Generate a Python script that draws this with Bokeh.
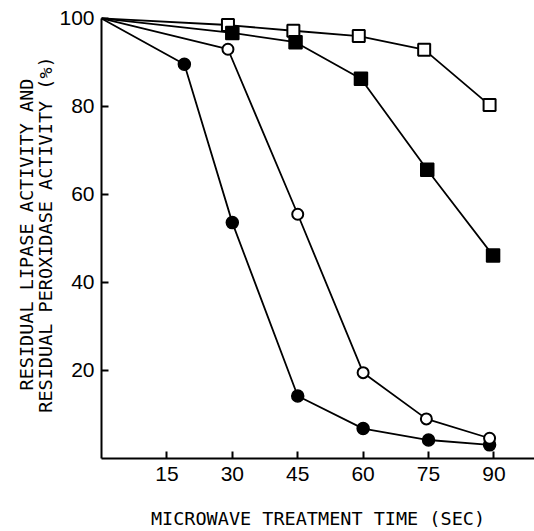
from bokeh.plotting import figure
from bokeh.models import FixedTicker, Range1d
from bokeh.embed import file_html
from bokeh.resources import INLINE

# Data
time_filled_circle = [0, 19, 30, 45, 60, 75, 89]
filled_circle = [100, 89.6, 53.6, 14.2, 6.8, 4.2, 3.1]
time_open_circle = [0, 29, 45, 60, 74.5, 89]
open_circle = [100, 93, 55.5, 19.5, 9, 4.6]
time_open_square = [0, 29, 44, 59, 74, 89]
open_square = [100, 98.5, 97.2, 96, 92.9, 80.3]
time_filled_square = [0, 30, 44.5, 59.5, 74.7, 89.8]
filled_square = [100, 96.7, 94.6, 86.3, 65.6, 46.1]
x_ticks = [15, 30, 45, 60, 75, 90]
y_ticks = [20, 40, 60, 80, 100]

p = figure(width=534, height=531, output_backend="svg", toolbar_location=None,
           x_range=Range1d(0, 99.3), y_range=Range1d(0, 101.8),
           min_border_left=101, min_border_right=0, min_border_top=10, min_border_bottom=73)
p.outline_line_color = None
p.xgrid.visible = False
p.ygrid.visible = False
p.background_fill_color = "white"
p.border_fill_color = "white"

lc = "black"
lw = 1.8
p.line(time_filled_circle, filled_circle, line_color=lc, line_width=lw)
p.line(time_open_circle, open_circle, line_color=lc, line_width=lw)
p.line(time_open_square, open_square, line_color=lc, line_width=lw)
p.line(time_filled_square, filled_square, line_color=lc, line_width=lw)

p.scatter(time_filled_circle[1:], filled_circle[1:], marker="circle", size=12,
          fill_color="black", line_color="black", line_width=1.5)
p.scatter(time_open_circle[1:], open_circle[1:], marker="circle", size=11,
          fill_color="white", line_color="black", line_width=2)
p.scatter(time_open_square[1:], open_square[1:], marker="square", size=12,
          fill_color="white", line_color="black", line_width=2)
p.scatter(time_filled_square[1:], filled_square[1:], marker="square", size=13,
          fill_color="black", line_color="black", line_width=1.5)

for ax in (p.xaxis[0], p.yaxis[0]):
    ax.axis_line_width = 2
    ax.axis_line_color = "black"
    ax.major_tick_in = 7
    ax.major_tick_out = 0
    ax.major_tick_line_width = 2
    ax.minor_tick_line_color = None
    ax.major_label_text_font = "Liberation Sans"
    ax.major_label_text_font_size = "21px"
    ax.major_label_text_color = "black"
    ax.axis_label_text_font = "DejaVu Sans Mono"
    ax.axis_label_text_font_size = "18.5px"
    ax.axis_label_text_font_style = "normal"
    ax.axis_label_text_color = "black"

p.xaxis[0].ticker = FixedTicker(ticks=x_ticks)
p.yaxis[0].ticker = FixedTicker(ticks=y_ticks)
p.xaxis[0].major_label_standoff = 8
p.yaxis[0].major_label_standoff = 7
p.yaxis[0].bounds = (0, 100)
p.xaxis[0].axis_label = "MICROWAVE TREATMENT TIME (SEC)"
p.yaxis[0].axis_label = "RESIDUAL LIPASE ACTIVITY AND\nRESIDUAL PEROXIDASE ACTIVITY (%)"
p.yaxis[0].axis_label_text_line_height = 0.95
p.xaxis[0].axis_label_standoff = 24
p.yaxis[0].axis_label_standoff = 0

open("out.html", "w").write(file_html(p, INLINE))
